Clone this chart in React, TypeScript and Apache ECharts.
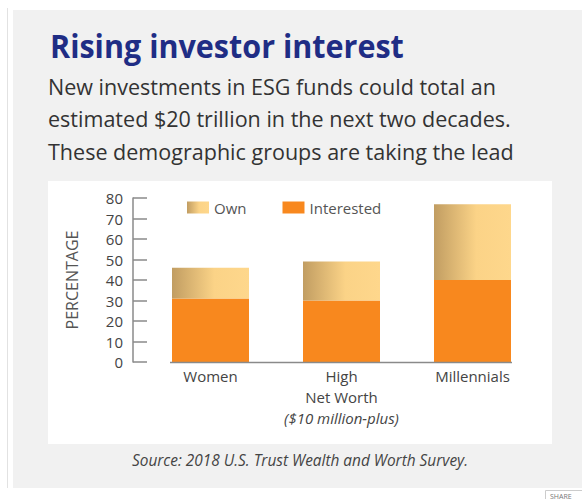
import React, { useEffect, useRef } from "react";
import * as echarts from "echarts";

const categories = ["Women", "High\nNet Worth", "Millennials"];
const subLabels = ["", "($10 million-plus)", ""];
const interested = [31, 30, 40];
const own = [15, 19, 37];
const yMin = 0;
const yMax = 80;
const yInterval = 10;

const titleText = "Rising investor interest";
const subtitleLines = [
  "New investments in ESG funds could total an",
  "estimated $20 trillion in the next two decades.",
  "These demographic groups are taking the lead",
];
const sourceText = "Source: 2018 U.S. Trust Wealth and Worth Survey.";

const FONT = '"Open Sans", "DejaVu Sans", sans-serif';

function measure(text: string, font: string): number {
  const ctx = document.createElement("canvas").getContext("2d");
  if (!ctx) return 1;
  ctx.font = font;
  return ctx.measureText(text).width || 1;
}

export default function App() {
  const ref = useRef<HTMLDivElement>(null);

  useEffect(() => {
    if (!ref.current) return;
    const chart = echarts.init(ref.current, null, { renderer: "svg" });

    const titleFont = `bold 33px ${FONT}`;
    const subFont = `22px ${FONT}`;
    const titleScale = 354 / measure(titleText, titleFont);
    const subScale = 463 / measure(subtitleLines[1], subFont);

    const ownGradient = new echarts.graphic.LinearGradient(0, 0, 1, 0, [
      { offset: 0, color: "#c19d62" },
      { offset: 0.55, color: "#fbd387" },
      { offset: 1, color: "#fed78c" },
    ]);

    const barWidth = 77;

    const graphic: any[] = [
      {
        type: "rect",
        id: "panel",
        z: -20,
        silent: true,
        shape: { x: 13, y: 10, width: 569, height: 478 },
        style: { fill: "#f1f1f1" },
      },
      {
        type: "line",
        id: "leftline",
        z: -20,
        silent: true,
        shape: { x1: 7.5, y1: 8, x2: 7.5, y2: 488 },
        style: { stroke: "#e2e2e2", lineWidth: 1 },
      },
      {
        type: "rect",
        id: "chartbox",
        z: -19,
        silent: true,
        shape: { x: 48, y: 181, width: 504, height: 263 },
        style: { fill: "#ffffff" },
      },
      {
        type: "text",
        id: "title",
        x: 50,
        y: 45,
        scaleX: titleScale,
        style: {
          text: titleText,
          font: titleFont,
          fill: "#1f2d85",
          verticalAlign: "middle",
          align: "left",
        },
      },
      ...subtitleLines.map((t, i) => ({
        type: "text",
        id: "sub" + i,
        x: 48,
        y: 86 + i * 32.5,
        scaleX: subScale,
        style: {
          text: t,
          font: subFont,
          fill: "#333333",
          verticalAlign: "middle",
          align: "left",
        },
      })),
      {
        type: "text",
        id: "source",
        x: 132,
        y: 460,
        style: {
          text: sourceText,
          font: `italic 15.4px ${FONT}`,
          fill: "#444444",
          verticalAlign: "middle",
          align: "left",
        },
      },
      {
        type: "rect",
        id: "sharebox",
        silent: true,
        shape: { x: 545.5, y: 490.5, width: 40, height: 12 },
        style: { fill: "#ffffff", stroke: "#cccccc", lineWidth: 1 },
      },
      {
        type: "text",
        id: "share",
        x: 550,
        y: 496,
        style: {
          text: "SHARE",
          font: `7px ${FONT}`,
          fill: "#777777",
          verticalAlign: "middle",
          align: "left",
        },
      },
    ];

    chart.setOption({
      animation: false,
      backgroundColor: "#ffffff",
      textStyle: { fontFamily: FONT },
      grid: { left: 145, right: 44, top: 198, bottom: 137, containLabel: false },
      legend: {
        left: 187,
        top: 200,
        padding: 0,
        itemWidth: 22,
        itemHeight: 12,
        itemGap: 36,
        icon: "rect",
        data: ["Own", "Interested"],
        textStyle: { fontSize: 15, color: "#555555", fontFamily: FONT },
      },
      xAxis: {
        type: "category",
        data: categories,
        axisLine: { show: false },
        axisTick: { show: false },
        axisLabel: {
          margin: 3,
          interval: 0,
          fontSize: 15,
          lineHeight: 21,
          color: "#444444",
          fontFamily: FONT,
          formatter: (value: string, idx: number) =>
            subLabels[idx] ? `${value}\n{i|${subLabels[idx]}}` : value,
          rich: {
            i: {
              fontSize: 15,
              lineHeight: 21,
              fontStyle: "italic",
              color: "#444444",
              fontFamily: FONT,
            },
          },
        },
      },
      yAxis: {
        type: "value",
        min: yMin,
        max: yMax,
        interval: yInterval,
        offset: 12,
        name: "PERCENTAGE",
        nameLocation: "middle",
        nameRotate: 90,
        nameGap: 53,
        nameTextStyle: { fontSize: 16, color: "#555555", fontFamily: FONT },
        axisLine: { show: true, lineStyle: { color: "#8a8a8a", width: 1.5 } },
        axisTick: {
          show: true,
          inside: true,
          length: 14,
          lineStyle: { color: "#8a8a8a", width: 1.5 },
        },
        axisLabel: { margin: 10, fontSize: 15, color: "#444444", fontFamily: FONT },
        splitLine: { show: false },
      },
      series: [
        {
          name: "Interested",
          type: "bar",
          stack: "total",
          barWidth,
          data: interested,
          itemStyle: { color: "#f8881e" },
        },
        {
          name: "Own",
          type: "bar",
          stack: "total",
          barWidth,
          data: own,
          itemStyle: { color: ownGradient },
        },
      ],
      graphic,
    });

    const p0 = chart.convertToPixel({ gridIndex: 0 }, [0, 0]) as number[];
    const p2 = chart.convertToPixel({ gridIndex: 0 }, [categories.length - 1, 0]) as number[];
    if (p0 && p2) {
      chart.setOption({
        graphic: [
          {
            type: "line",
            id: "xaxisline",
            silent: true,
            z: 5,
            shape: {
              x1: p0[0] - barWidth / 2 - 2,
              y1: p0[1] + 0.5,
              x2: p2[0] + barWidth / 2 + 1,
              y2: p2[1] + 0.5,
            },
            style: { stroke: "#8a8a8a", lineWidth: 1.5 },
          },
        ],
      });
    }

    return () => {
      chart.dispose();
    };
  }, []);

  return (
    <div
      ref={ref}
      style={{ position: "absolute", left: 0, top: 0, width: 582, height: 499 }}
    />
  );
}
